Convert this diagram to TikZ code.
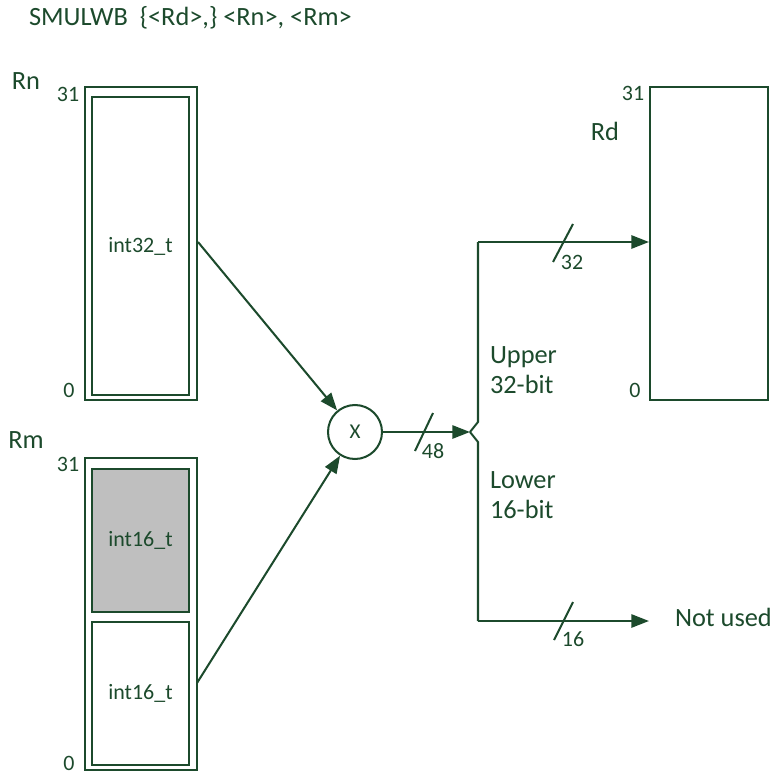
\documentclass[tikz,border=0pt]{standalone}
\usepackage{fontspec}
\setmainfont{Carlito}
\usetikzlibrary{arrows.meta}
\definecolor{dkgreen}{RGB}{28,74,44}

\begin{document}
\begin{tikzpicture}[x=0.02cm, y=-0.02cm, line width=1.15pt, draw=dkgreen, text=dkgreen,
    every node/.style={align=center},
    regbox/.style={draw, minimum width=#1, minimum height=6.26cm, inner sep=0pt},
    fieldbox/.style={draw, minimum width=1.94cm, minimum height=#1, inner sep=0pt, font=\fontsize{12.5}{14}\selectfont},
    bitnum/.style={font=\fontsize{12.5}{14}\selectfont, inner sep=0pt},
    biglabel/.style={font=\fontsize{15}{18}\selectfont, inner sep=0pt},
    arr/.style={-{Triangle[length=10pt, width=7.5pt]}}]
    \useasboundingbox (0,0) rectangle (778,777);

    \node[biglabel, anchor=west] (title) at (28,18) {SMULWB\ \ \{<Rd>,\} <Rn>, <Rm>};

    % Rn
    \node[biglabel] (rnlbl) at (26,81) {Rn};
    \node[regbox=2.24cm] (rn) at (141,243.5) {};
    \node[fieldbox=5.96cm] (n32) at (140.5,246) {int32\_t};
    \node[bitnum] at (68,94) {31};
    \node[bitnum] at (69,390) {0};

    % Rm
    \node[biglabel] (rmlbl) at (26,440) {Rm};
    \node[regbox=2.24cm, minimum height=6.24cm] (rm) at (141,614) {};
    \node[fieldbox=2.86cm, fill=gray!50] (mhi) at (140.5,540.5) {int16\_t};
    \node[fieldbox=2.86cm] (mlo) at (140.5,693.5) {int16\_t};
    \node[bitnum] at (68,464) {31};
    \node[bitnum] at (69,763) {0};

    % Rd
    \node[biglabel] (rdlbl) at (605,131) {Rd};
    \node[regbox=2.36cm] (rd) at (709,243.5) {};
    \node[bitnum] at (633,93) {31};
    \node[bitnum] at (635,390) {0};

    % multiplier
    \node[draw, circle, minimum size=1.08cm, inner sep=0pt, font=\fontsize{12}{14}\selectfont] (mul) at (355,432) {X};
    \coordinate (loout) at (197,683);
    \draw[arr] (rn.east |- 0,242) -- (mul);
    \draw[arr] (loout) -- (mul);

    % split
    \coordinate (fork) at (470,432);
    \coordinate (up) at (478,242);
    \coordinate (down) at (478,621);
    \draw[arr] (mul) -- (fork);
    \draw (fork) -- (478,422) -- (up);
    \draw (fork) -- (478,442) -- (down);
    \draw[arr] (up) -- (up -| rd.west);
    \node[biglabel, anchor=west] (notused) at (674,617) {Not used};
    \draw[arr, shorten >=0.5cm] (down) -- (down -| notused.west);

    % widths
    \draw (415,451) -- (433,413);
    \node[bitnum] at (433,451) {48};
    \draw (553,262) -- (573,224);
    \node[bitnum] at (572,262) {32};
    \draw (554,640) -- (573,602);
    \node[bitnum] at (573,639) {16};

    \node[biglabel, anchor=west, align=left] (upper) at (489,370) {Upper\\[-1pt]32-bit};
    \node[biglabel, anchor=west, align=left] (lower) at (489,495) {Lower\\[-1pt]16-bit};
\end{tikzpicture}
\end{document}
